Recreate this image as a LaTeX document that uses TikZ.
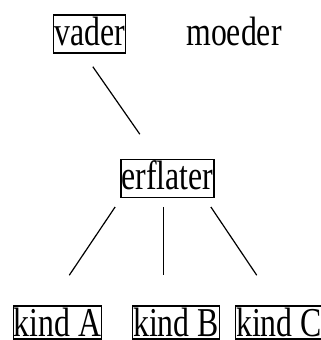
\documentclass[tikz,border=0pt]{standalone}
\usepackage{fontspec}
\setmainfont{Liberation Serif}[FakeStretch=0.775]
\usepackage{tikz}
\usetikzlibrary{positioning}

\begin{document}
\begin{tikzpicture}[
        x=1pt, y=-1pt,
        word/.style={
            inner xsep=0.5pt,
            inner ysep=0pt,
            text height=30pt,
            text depth=8pt,
            font=\fontsize{41}{45}\selectfont
        },
        wordbox/.style={
            word,
            draw,
            line width=1.5pt
        },
        kidbox/.style={
            wordbox,
            text depth=3pt
        },
        twig/.style={
            -,
            line width=1.2pt
        }
    ]
                \useasboundingbox (0,0) rectangle (321,340);

                % ouders
                \node[wordbox] (vader) at (89.5,34) {vader};
                \node[word] (moeder) at (234,34) {moeder};

                \node[wordbox] (erflater) at (167.5,178.5) {erflater};

                % kinderen
                \node[kidbox] (kindA) at (57.5,322.5) {kind A};
                \node[kidbox] (kindB) at (176,322.5) {kind B};
                \node[kidbox] (kindC) at (279,322.5) {kind C};

                \draw[
                    twig,
                    shorten <=15.8pt,
                    shorten >=29.9pt
                    ] ([xshift=-5.7pt]vader.south) -- ([xshift=-10.6pt]erflater.north);

                \draw[
                    twig,
                    shorten <=10.5pt,
                    shorten >=36.2pt
                    ] ([xshift=0.6pt]erflater.south west) -- ([xshift=-8.4pt]kindA.north);

                \draw[
                    twig,
                    shorten <=8.7pt,
                    shorten >=30pt
                    ] ([xshift=-4.2pt]erflater.south) -- ([xshift=-12.7pt]kindB.north);

                \draw[
                    twig,
                    shorten <=10.5pt,
                    shorten >=36.2pt
                    ] ([xshift=-9.6pt]erflater.south east) -- ([xshift=-2.1pt]kindC.north);

            \end{tikzpicture}
\end{document}
